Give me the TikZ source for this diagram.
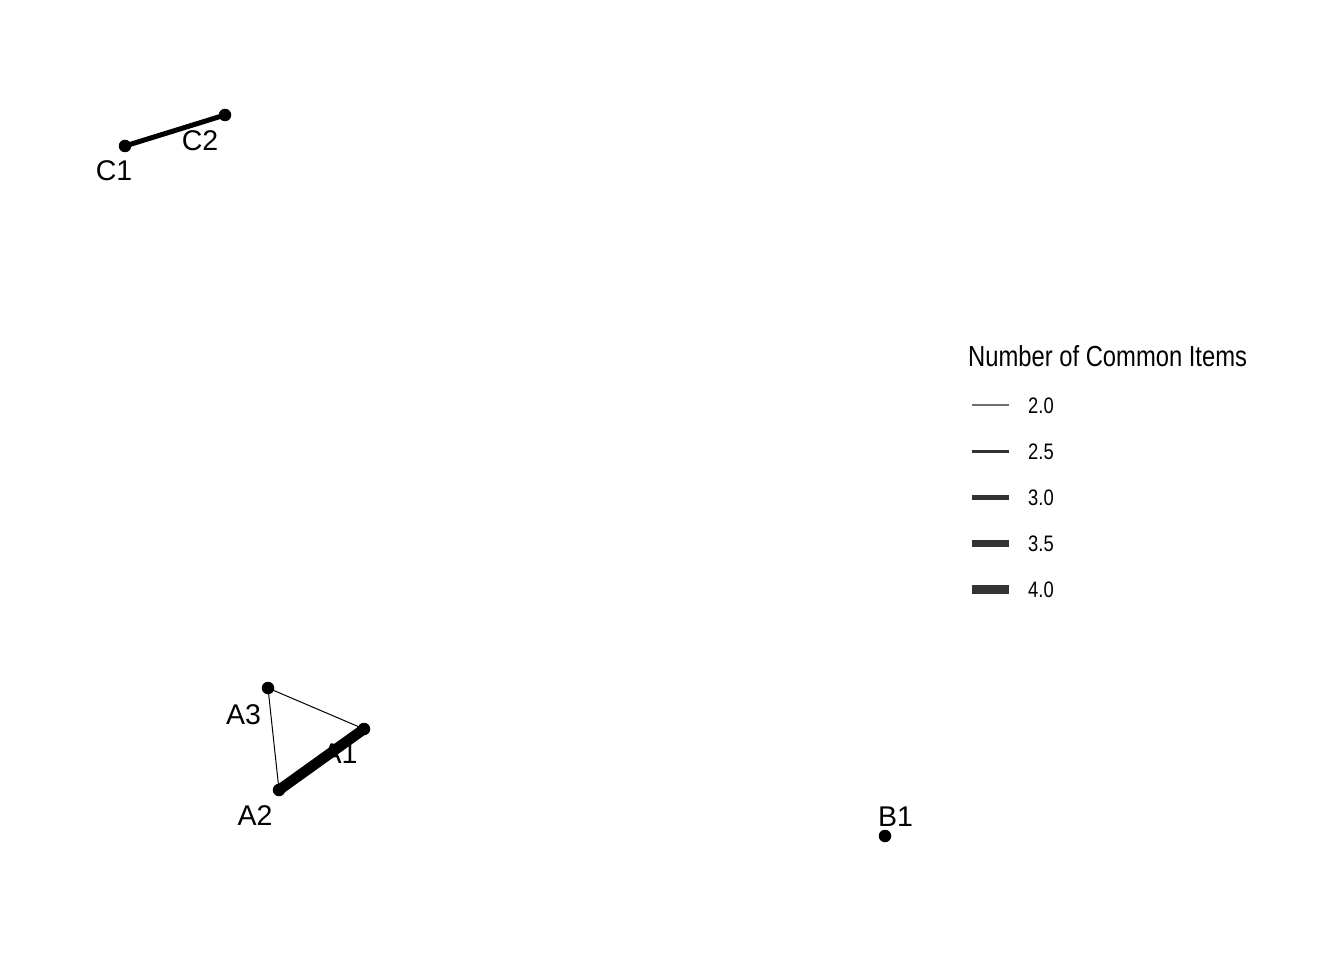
\documentclass[tikz,border=0pt]{standalone}
\usepackage{fontspec}
\setmainfont{Liberation Sans}
\newfontfamily\narrowfont[FakeStretch=0.82]{Liberation Sans}
\definecolor{leg}{HTML}{333333}
\definecolor{legthin}{HTML}{6E6E6E}
\begin{document}
\begin{tikzpicture}[x=1pt,y=-1pt,
  dot/.style={circle,fill=black,inner sep=0pt,minimum size=12.5pt},
  lbl/.style={anchor=base,inner sep=0pt,font=\fontsize{28.5}{30}\selectfont},
  edge/.style={draw=black,line cap=round},
  legline/.style={draw=leg,line cap=butt},
  legtxt/.style={anchor=base west,inner sep=0pt,font=\narrowfont\fontsize{22.4}{24}\selectfont},
]
\useasboundingbox (0,0) rectangle (1344,960);
% vertices
\node[dot] (C1) at (125,146) {};
\node[dot] (C2) at (225,115) {};
\node[dot] (A3) at (268,688) {};
\node[dot] (A1) at (364,729) {};
\node[dot] (A2) at (279,790) {};
\node[dot] (B1) at (885,836) {};
% edges
\draw[edge,line width=1pt] (A3.center) -- (A1.center);
\draw[edge,line width=1pt] (A3.center) -- (A2.center);
\draw[edge,line width=10.5pt] (A1.center) -- (A2.center);
\draw[edge,line width=5pt] (C1.center) -- (C2.center);
% labels
\node[lbl] (lC1) at (114,181) {C1};
\node[lbl] (lC2) at (200,151) {C2};
\node[lbl] (lA3) at (243.5,724) {A3};
\node[lbl] (lA1) at (340,763) {A1};
\node[lbl] (lA2) at (255,825) {A2};
\node[lbl] (lB1) at (895.5,826) {B1};
% legend
\node[anchor=base west,inner sep=0pt,font=\narrowfont\fontsize{29}{31}\selectfont] (legtitle) at (968,366) {Number of Common Items};
\foreach \y/\w/\c/\t [count=\i] in {405/1.2/legthin/2.0, 451/3/leg/2.5, 497/5/leg/3.0, 543/7/leg/3.5, 589/9/leg/4.0}{
  \coordinate (ls\i) at (972,\y);
  \coordinate (le\i) at (1009,\y);
  \draw[legline,draw=\c,line width=\w pt] (ls\i) -- (le\i);
  \node[legtxt] (lt\i) at (1028,\y+8) {\t};
}
\end{tikzpicture}
\end{document}
